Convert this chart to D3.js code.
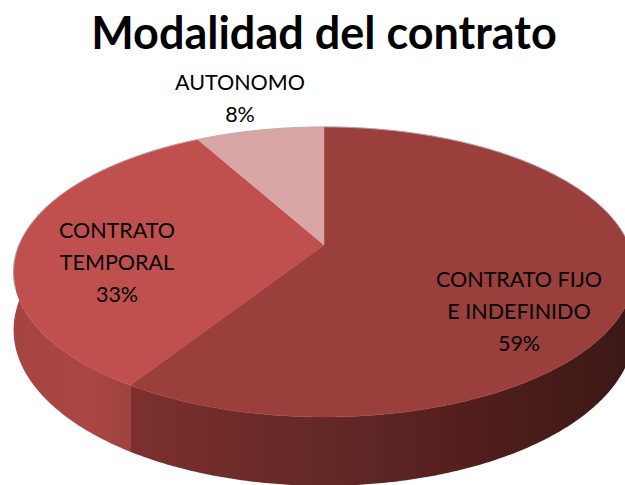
<!DOCTYPE html>
<html>
<head>
<meta charset="utf-8">
<script src="https://cdn.jsdelivr.net/npm/d3@7"></script>
<style>
  body { margin: 0; background: #fff; }
  svg { display: block; }
</style>
</head>
<body>
<div id="chart"></div>
<script>
// data
const categories = ["CONTRATO FIJO E INDEFINIDO", "CONTRATO TEMPORAL", "AUTONOMO"];
const values = [59, 33, 8];
const labelLines = [["CONTRATO FIJO", "E INDEFINIDO"], ["CONTRATO", "TEMPORAL"], ["AUTONOMO"]];

// colours
const topColors = ["#9b3f3c", "#c0504d", "#d8a6a5"];
const wallStops = [
  [[140, "#7b302d"], [330, "#622826"], [470, "#521f1d"], [625, "#3c1816"]],
  [[10, "#a6443f"], [90, "#ab4742"], [145, "#9c403b"]],
  [[0, "#b98b8a"], [625, "#b98b8a"]]
];

const width = 625, height = 485;

// 3d disc, simple perspective projection
const cx = 324, cy = 245, A = 305, B = 140, k = 0.186, H = 56;
function proj(a) {
  const u = Math.sin(a), v = -Math.cos(a);
  const d = 1 - k * v;
  return [cx + A * u / d, cy + B * v / d, d];
}
function projBottom(a) {
  const p = proj(a);
  return [p[0], p[1] + H / p[2]];
}

const svg = d3.select("#chart")
  .append("svg")
    .attr("width", width)
    .attr("height", height);

const defs = svg.append("defs");
wallStops.forEach((stops, i) => {
  const g = defs.append("linearGradient")
    .attr("id", "wall" + i)
    .attr("gradientUnits", "userSpaceOnUse")
    .attr("x1", 0).attr("x2", width)
    .attr("y1", 0).attr("y2", 0);
  stops.forEach(s => {
    g.append("stop").attr("offset", s[0] / width).attr("stop-color", s[1]);
  });
});

const pie = d3.pie().sort(null).startAngle(0).endAngle(2 * Math.PI);
const arcs = pie(values);
const total = d3.sum(values);

const step = Math.PI / 360;
const line = d3.line();

function sample(a0, a1, f) {
  const pts = [];
  for (let a = a0; a < a1; a += step) pts.push(f(a));
  pts.push(f(a1));
  return pts.map(p => [p[0], p[1]]);
}

// outer walls (front half only)
arcs.forEach((d, i) => {
  const a0 = Math.max(d.startAngle, Math.PI / 2);
  const a1 = Math.min(d.endAngle, 3 * Math.PI / 2);
  if (a1 <= a0) return;
  const topEdge = sample(a0, a1, proj);
  const botEdge = sample(a0, a1, projBottom).reverse();
  svg.append("path")
    .attr("d", line(topEdge.concat(botEdge)) + "Z")
    .attr("fill", `url(#wall${i})`);
});

// slice tops
arcs.forEach((d, i) => {
  const pts = [[cx, cy]].concat(sample(d.startAngle, d.endAngle, proj));
  svg.append("path")
    .attr("d", line(pts) + "Z")
    .attr("fill", topColors[i])
    .attr("stroke", topColors[i])
    .attr("stroke-width", 0.5);
});

// faint rim at the back
svg.append("path")
  .attr("d", line(sample(-Math.PI / 2 - 0.3, Math.PI / 2 + 0.3, proj)))
  .attr("fill", "none")
  .attr("stroke", "#b7a9a9")
  .attr("stroke-width", 0.8);

// title
svg.append("text")
  .attr("x", 324)
  .attr("y", 49)
  .attr("text-anchor", "middle")
  .attr("font-family", "Lato, 'Open Sans', sans-serif")
  .attr("font-weight", "bold")
  .attr("font-size", 45)
  .attr("fill", "#000")
  .text("Modalidad del contrato");

// labels
const labelPos = [[519, 287], [117, 238], [240, 90]];
const lineH = 32;
arcs.forEach((d, i) => {
  const lines = labelLines[i].concat([Math.round(d.value / total * 100) + "%"]);
  const t = svg.append("text")
    .attr("text-anchor", "middle")
    .attr("font-family", "Lato, 'Open Sans', sans-serif")
    .attr("font-size", 21.5)
    .attr("fill", "#000");
  lines.forEach((s, j) => {
    t.append("tspan")
      .attr("x", labelPos[i][0])
      .attr("y", labelPos[i][1] + j * lineH)
      .text(s);
  });
});
</script>
</body>
</html>
